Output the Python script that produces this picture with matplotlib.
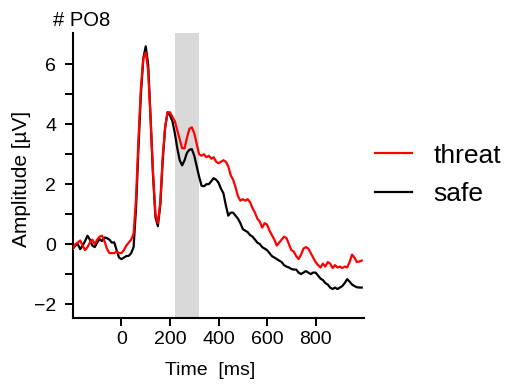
import numpy as np
import matplotlib.pyplot as plt

plt.rcParams['font.family'] = ['Liberation Sans', 'DejaVu Sans']

# time points (ms)
time_ms = list(range(-200, 1000, 10))

# threat condition (µV)
threat = [
    -0.15, 0.0, 0.05, 0.12, -0.05, -0.2, -0.1, 0.05, 0.15, 0.0,      # -200..-110
    0.15, 0.25, 0.28, 0.1, -0.15, -0.3, -0.3, -0.3, -0.25, -0.3,     # -100..-10
    -0.3, -0.2, -0.05, 0.05, 0.15, 0.35, 1.5, 3.5, 5.2, 6.2,         # 0..90
    6.4, 5.8, 4.2, 2.4, 1.0, 0.7, 1.4, 2.9, 3.9, 4.4,                # 100..190
    4.4, 4.25, 4.1, 3.8, 3.5, 3.2, 3.2, 3.55, 3.85, 3.9,             # 200..290
    3.7, 3.35, 3.0, 2.95, 3.0, 2.9, 2.95, 2.85, 2.9, 2.75,           # 300..390
    2.7, 2.75, 2.8, 2.75, 2.6, 2.3, 2.15, 1.9, 1.6, 1.45,            # 400..490
    1.5, 1.45, 1.5, 1.4, 1.2, 1.05, 0.85, 0.75, 0.55, 0.7,           # 500..590
    0.65, 0.45, 0.3, 0.15, -0.05, 0.05, 0.15, 0.25, 0.2, 0.0,        # 600..690
    -0.2, -0.25, -0.4, -0.5, -0.35, -0.15, -0.1, -0.15, -0.3, -0.45, # 700..790
    -0.6, -0.7, -0.78, -0.65, -0.75, -0.6, -0.65, -0.8, -0.7, -0.78, # 800..890
    -0.75, -0.8, -0.75, -0.78, -0.6, -0.35, -0.45, -0.6, -0.58, -0.55,  # 900..990
]

# safe condition (µV)
safe = [
    -0.15, -0.05, 0.0, -0.17, -0.05, 0.1, 0.28, 0.15, -0.05, -0.1,   # -200..-110
    0.05, 0.17, 0.1, 0.22, 0.2, 0.15, 0.05, 0.06, -0.2, -0.45,       # -100..-10
    -0.5, -0.45, -0.4, -0.39, -0.3, -0.1, 1.2, 3.2, 5.0, 6.2,        # 0..90
    6.6, 6.0, 4.2, 2.3, 0.9, 0.6, 1.3, 2.8, 3.9, 4.4,                # 100..190
    4.3, 4.1, 3.7, 3.2, 2.8, 2.63, 2.8, 3.05, 3.15, 3.17,            # 200..290
    2.95, 2.6, 2.25, 1.95, 1.93, 2.0, 2.0, 2.1, 2.2, 2.15,           # 300..390
    2.05, 1.85, 1.7, 1.3, 0.95, 1.05, 1.05, 0.95, 0.85, 0.7,         # 400..490
    0.5, 0.45, 0.4, 0.3, 0.25, 0.15, 0.05, 0.0, -0.1, -0.15,         # 500..590
    -0.2, -0.3, -0.4, -0.45, -0.5, -0.55, -0.6, -0.7, -0.75, -0.78,  # 600..690
    -0.83, -0.85, -0.85, -0.95, -1.0, -0.95, -0.9, -0.95, -1.0, -0.95,  # 700..790
    -0.95, -1.05, -1.15, -1.2, -1.3, -1.35, -1.45, -1.5, -1.45, -1.5, # 800..890
    -1.45, -1.4, -1.3, -1.17, -1.25, -1.35, -1.4, -1.44, -1.45, -1.45, # 900..990
]

window = (220, 320)

fig = plt.figure(figsize=(5.1, 3.87), dpi=100)
ax = fig.add_axes([0.143, 0.178, 0.571, 0.737])

ax.axvspan(window[0], window[1], color='#d9d9d9', lw=0, zorder=0)
ax.plot(time_ms, safe, color='black', lw=1.6, label='safe', zorder=2)
ax.plot(time_ms, threat, color='red', lw=1.6, label='threat', zorder=3)

ax.set_xlim(-200, 1000)
ax.set_ylim(-2.47, 7.05)
ax.set_xticks([0, 200, 400, 600, 800])
ax.set_yticks([-2, 0, 2, 4, 6])
ax.set_yticks([-1, 1, 3, 5], minor=True)
ax.tick_params(which='both', direction='out', length=6, width=1.4, labelsize=14)
ax.tick_params(axis='x', pad=3)
ax.tick_params(axis='y', pad=6)

for s in ['top', 'right']:
    ax.spines[s].set_visible(False)
for s in ['left', 'bottom']:
    ax.spines[s].set_linewidth(1.5)

ax.set_xlabel('Time  [ms]', fontsize=14, va='center')
ax.xaxis.set_label_coords(0.471, -0.182)
ax.set_ylabel('Amplitude [µV]', fontsize=15, va='center')
ax.yaxis.set_label_coords(-0.177, 0.489)

fig.text(0.104, 0.948, '# PO8', fontsize=14.5, va='center', ha='left')

h, l = ax.get_legend_handles_labels()
fig.legend(h[::-1], l[::-1], loc='center left', bbox_to_anchor=(0.71, 0.548),
           frameon=False, fontsize=19, handlelength=1.4, handletextpad=0.8,
           labelspacing=0.55, borderpad=0)

fig.savefig('out.png', dpi=100)
